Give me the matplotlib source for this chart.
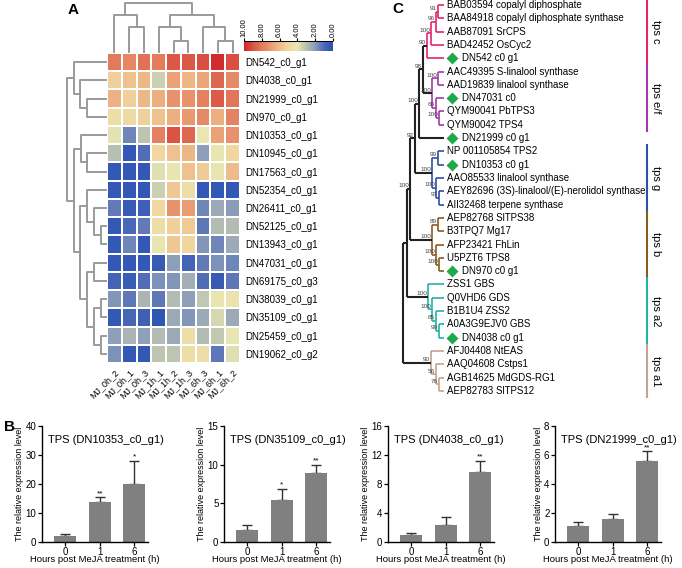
import numpy as np
import matplotlib
matplotlib.use('Agg')
import matplotlib.pyplot as plt
from matplotlib.colors import LinearSegmentedColormap, Normalize
from matplotlib.cm import ScalarMappable

plt.rcParams['font.family'] = ['Liberation Sans', 'DejaVu Sans']

W, H = 682, 568

# ---------------- panel A data ----------------
genes = ['DN542_c0_g1', 'DN4038_c0_g1', 'DN21999_c0_g1', 'DN970_c0_g1', 'DN10353_c0_g1',
         'DN10945_c0_g1', 'DN17563_c0_g1', 'DN52354_c0_g1', 'DN26411_c0_g1', 'DN52125_c0_g1',
         'DN13943_c0_g1', 'DN47031_c0_g1', 'DN69175_c0_g3', 'DN38039_c0_g1', 'DN35109_c0_g1',
         'DN25459_c0_g1', 'DN19062_c0_g2']
samples = ['MJ_0h_2', 'MJ_0h_1', 'MJ_0h_3', 'MJ_1h_1', 'MJ_1h_2', 'MJ_1h_3', 'MJ_6h_3', 'MJ_6h_1', 'MJ_6h_2']
expr = [
    [8.0, 7.6, 8.2, 7.9, 8.9, 8.9, 9.1, 9.8, 9.1],
    [5.3, 5.8, 6.2, 3.4, 6.8, 6.2, 6.7, 8.5, 7.5],
    [6.3, 5.3, 6.1, 6.4, 7.3, 7.3, 7.8, 8.8, 8.1],
    [4.6, 4.8, 5.3, 5.8, 6.4, 7.1, 7.5, 6.4, 7.7],
    [3.9, 1.6, 3.1, 7.8, 9.0, 8.5, 4.0, 6.8, 7.3],
    [3.0, 0.3, 1.1, 5.0, 5.8, 6.2, 2.1, 4.1, 5.0],
    [0.3, 0.3, 0.3, 3.8, 4.1, 5.8, 5.4, 4.1, 6.0],
    [0.3, 0.3, 0.3, 3.4, 5.6, 4.6, 0.3, 0.3, 0.3],
    [1.4, 0.4, 0.6, 5.0, 7.3, 7.0, 1.6, 2.4, 2.0],
    [0.3, 1.0, 1.4, 4.6, 5.3, 5.5, 1.3, 2.9, 2.9],
    [0.3, 1.6, 0.3, 4.1, 5.6, 5.1, 1.9, 1.6, 2.4],
    [0.3, 0.3, 0.3, 0.4, 2.1, 0.8, 1.4, 1.8, 1.6],
    [0.8, 0.5, 1.1, 1.8, 1.9, 2.5, 1.1, 0.4, 1.3],
    [1.9, 1.3, 2.7, 1.3, 2.9, 2.1, 3.2, 4.1, 4.2],
    [0.3, 0.9, 0.7, 0.2, 2.4, 1.9, 2.4, 3.6, 2.4],
    [2.1, 2.7, 2.1, 2.9, 2.4, 4.6, 2.9, 3.2, 4.1],
    [1.8, 0.3, 0.3, 3.1, 3.1, 4.6, 4.6, 1.3, 3.8],
]
# dendrograms: (left, right, height)
row_tree = ((0, (1, (2, 3, 20), 27), 33),
            ((4, (5, 6, 20), 26),
             ((7, (8, (9, 10, 6), 13), 20), ((11, 12, 13), ((13, 14, 6), (15, 16, 6), 13), 20), 27), 33), 40)
col_tree = ((0, (1, 2, 26), 38), ((3, (4, 5, 12), 26), (6, (7, 8, 12), 26), 38), 50)

cmap_vals = [0, 1, 2, 3, 4, 5, 6, 7, 8, 9, 10]
cmap_cols = ['#2a52b4', '#4a68b6', '#8a9cba', '#b8c0b2', '#e8e6b2', '#f0d8a0',
             '#eebc8a', '#e99c72', '#e27a5c', '#da5444', '#cf2228']

# ---------------- panel B data ----------------
bar_titles = ['TPS (DN10353_c0_g1)', 'TPS (DN35109_c0_g1)', 'TPS (DN4038_c0_g1)', 'TPS (DN21999_c0_g1)']
hours = ['0', '1', '6']
bar_means = [[2.0, 13.8, 20.0], [1.6, 5.4, 8.9], [1.0, 2.3, 9.7], [1.1, 1.6, 5.6]]
bar_errs = [[0.9, 1.7, 8.0], [0.6, 1.5, 1.1], [0.2, 1.1, 1.5], [0.25, 0.35, 0.65]]
bar_stars = [['', '**', '*'], ['', '*', '**'], ['', '', '**'], ['', '', '**']]
bar_ymax = [40, 15, 16, 8]
bar_ticks = [[0, 10, 20, 30, 40], [0, 5, 10, 15], [0, 4, 8, 12, 16], [0, 2, 4, 6, 8]]

# ---------------- panel C data ----------------
leaf_names = ['BAB03594 copalyl diphosphate', 'BAA84918 copalyl diphosphate synthase', 'AAB87091 SrCPS',
              'BAD42452 OsCyc2', 'DN542 c0 g1', 'AAC49395 S-linalool synthase', 'AAD19839 linalool synthase',
              'DN47031 c0', 'QYM90041 PbTPS3', 'QYM90042 TPS4', 'DN21999 c0 g1', 'NP 001105854 TPS2',
              'DN10353 c0 g1', 'AAO85533 linalool synthase', 'AEY82696 (3S)-linalool/(E)-nerolidol synthase',
              'AII32468 terpene synthase', 'AEP82768 SlTPS38', 'B3TPQ7 Mg17', 'AFP23421 FhLin', 'U5PZT6 TPS8',
              'DN970 c0 g1', 'ZSS1 GBS', 'Q0VHD6 GDS', 'B1B1U4 ZSS2', 'A0A3G9EJV0 GBS', 'DN4038 c0 g1',
              'AFJ04408 NtEAS', 'AAQ04608 Cstps1', 'AGB14625 MdGDS-RG1', 'AEP82783 SlTPS12']
query_leaves = [4, 7, 10, 12, 20, 25]
clade_names = ['tps c', 'tps e/f', 'tps g', 'tps b', 'tps a2', 'tps a1']
clade_ranges = [(0, 4), (5, 9), (11, 15), (16, 20), (21, 25), (26, 29)]
clade_colors = ['#e2266e', '#a43aa8', '#2f4fa6', '#8a5a22', '#22b2a8', '#c4a48c']
BK = '#222222'
# nodes: (left, right, depth, bootstrap, colour)
c_cl = ((((0, 1, 438, '91', clade_colors[0]), 2, 436, '96', clade_colors[0]), 3, 431, '100', clade_colors[0]),
        4, 427, '90', clade_colors[0])
ef_cl = ((5, 6, 438, '100', clade_colors[1]), (7, (8, 9, 439, '100', clade_colors[1]), 436, '66', clade_colors[1]),
         432, '100', clade_colors[1])
g_cl = ((11, 12, 438, '99', clade_colors[2]), (13, (14, 15, 439, '97', clade_colors[2]), 436, '100', clade_colors[2]),
        432, '100', clade_colors[2])
b_cl = ((16, 17, 438, '89', clade_colors[3]), (18, (19, 20, 439, '100', clade_colors[3]), 436, '100', clade_colors[3]),
        432, '100', clade_colors[3])
a2_cl = (21, (22, (23, (24, 25, 439, '99', clade_colors[4]), 436, '85', clade_colors[4]), 432, '100', clade_colors[4]),
         428, '100', clade_colors[4])
a1_cl = (26, (27, (28, 29, 439, '76', clade_colors[5]), 436, '56', clade_colors[5]), 431, '90', clade_colors[5])
phylo = ((((((c_cl, ef_cl, 423, '98', BK), 10, 419, '100', BK), g_cl, 415, '92', BK), b_cl, 410, '100', BK),
          a2_cl, 407, '', BK), a1_cl, 403, '', BK)
tip_x = 444


def px_axes(fig, x, y, w, h):
    return fig.add_axes([x / W, 1 - (y + h) / H, w / W, h / H])


def dendro(node):
    if isinstance(node, int):
        return node + 0.5, 0, []
    a, b, h = node
    pa, ha, sa = dendro(a)
    pb, hb, sb = dendro(b)
    seg = [(pa, ha), (pa, h), (pb, h), (pb, hb)]
    return (pa + pb) / 2, h, sa + sb + [seg]


def tree_lines(node, ax):
    if isinstance(node, int):
        return node, tip_x
    a, b, x, lab, col = node
    ya, xa = tree_lines(a, ax)
    yb, xb = tree_lines(b, ax)
    lw = 1.5 if col == BK else 1.2
    ax.plot([x, x], [ya, yb], color=col, lw=lw, solid_capstyle='butt')
    ax.plot([x, xa], [ya, ya], color=col, lw=lw, solid_capstyle='butt')
    ax.plot([x, xb], [yb, yb], color=col, lw=lw, solid_capstyle='butt')
    y = (ya + yb) / 2
    if lab:
        ax.text(x - 0.8, y - 0.05, lab, fontsize=4.6, color='#444444', ha='right', va='bottom')
    return y, x


fig = plt.figure(figsize=(W / 100, H / 100), dpi=100)

# ---------- A: heatmap ----------
cmap = LinearSegmentedColormap.from_list('hm', [(v / 10, c) for v, c in zip(cmap_vals, cmap_cols)])
ax_hm = px_axes(fig, 107, 53, 133, 310)
ax_hm.pcolormesh(np.array(expr), cmap=cmap, vmin=0, vmax=10, edgecolors='white', linewidth=1.3)
ax_hm.set_xlim(0, len(samples))
ax_hm.set_ylim(len(genes), 0)
ax_hm.yaxis.tick_right()
ax_hm.set_yticks(np.arange(len(genes)) + 0.5)
ax_hm.set_yticklabels(genes, fontsize=7)
ax_hm.set_xticks(np.arange(len(samples)) + 0.5)
ax_hm.set_xticklabels(samples, fontsize=6.5, rotation=45, ha='right', rotation_mode='anchor')
ax_hm.tick_params(length=0, pad=4)
ax_hm.tick_params(axis='x', pad=3)
for s in ax_hm.spines.values():
    s.set_visible(False)

ax_rd = px_axes(fig, 60, 53, 47, 310)
for seg in dendro(row_tree)[2]:
    ax_rd.plot([p[1] for p in seg], [p[0] for p in seg], color='#9a9a9a', lw=1.4)
ax_rd.set_xlim(47, 0)
ax_rd.set_ylim(len(genes), 0)
ax_rd.axis('off')

ax_cd = px_axes(fig, 107, 0, 133, 53)
for seg in dendro(col_tree)[2]:
    ax_cd.plot([p[0] for p in seg], [p[1] for p in seg], color='#9a9a9a', lw=1.4)
ax_cd.set_xlim(0, len(samples))
ax_cd.set_ylim(0, 53)
ax_cd.axis('off')

cax = px_axes(fig, 244, 41, 89, 10)
cb = fig.colorbar(ScalarMappable(norm=Normalize(0, 10), cmap=cmap), cax=cax, orientation='horizontal')
cb.outline.set_visible(False)
cax.invert_xaxis()
cb.set_ticks([10, 8, 6, 4, 2, 0])
cb.set_ticklabels(['%.2f' % t for t in [10, 8, 6, 4, 2, 0]])
cax.xaxis.set_ticks_position('top')
cax.tick_params(labelsize=5.5, length=2, width=0.8, pad=1, labelrotation=90)
cax.axhline(1, color='black', lw=1.4)

fig.text(68 / W, 1 - 10 / H, 'A', fontsize=11, fontweight='bold', va='center')

# ---------- C: tree ----------
ax_c = px_axes(fig, 390, 0, 292, 400)
ax_c.set_xlim(390, 682)
ax_c.set_ylim(29.68, -0.376)
ax_c.axis('off')
tree_lines(phylo, ax_c)
for i, name in enumerate(leaf_names):
    if i in query_leaves:
        ax_c.plot(452, i, marker='D', ms=6, color='#1faa4a', mec='none')
        ax_c.text(462, i, name, fontsize=7, va='center', ha='left')
    else:
        ax_c.text(447, i, name, fontsize=7, va='center', ha='left')
for name, (i0, i1), col in zip(clade_names, clade_ranges, clade_colors):
    ax_c.plot([647, 647], [i0 - 0.45, i1 + 0.45], color=col, lw=1.5)
    ax_c.text(656, (i0 + i1) / 2, name, rotation=-90, fontsize=8, ha='center', va='center')
fig.text(392 / W, 1 - 9 / H, 'C', fontsize=11, fontweight='bold', va='center')

# ---------- B: bar charts ----------
fig.text(4 / W, 1 - 427 / H, 'B', fontsize=11, fontweight='bold', va='center')
x0s = [42, 224, 388, 555]
for k in range(4):
    ax = px_axes(fig, x0s[k], 426, 106, 116)
    xs = np.arange(len(hours))
    ax.bar(xs, bar_means[k], width=0.64, color='#808080', zorder=2)
    ax.errorbar(xs, bar_means[k], yerr=[[0] * 3, bar_errs[k]], fmt='none', ecolor='#333333',
                elinewidth=1.0, capsize=3.5, capthick=1.0, zorder=1)
    for xi, m, e, s in zip(xs, bar_means[k], bar_errs[k], bar_stars[k]):
        if s:
            ax.text(xi, m + e, s, ha='center', va='bottom', fontsize=6)
    ax.set_xlim(-0.67, 2.4)
    ax.set_ylim(0, bar_ymax[k])
    ax.set_yticks(bar_ticks[k])
    ax.set_xticks(xs)
    ax.set_xticklabels(hours)
    for s in ['top', 'right']:
        ax.spines[s].set_visible(False)
    for s in ['left', 'bottom']:
        ax.spines[s].set_linewidth(1.0)
    ax.tick_params(labelsize=7, length=3, width=0.9, pad=1)
    ax.tick_params(axis='x', pad=0.5)
    ax.set_ylabel('The relative expression level', fontsize=6.5, labelpad=1)
    ax.set_xlabel('Hours post MeJA treatment (h)', fontsize=6.8, labelpad=-1)
    ax.text(0.06, 0.88, bar_titles[k], transform=ax.transAxes, fontsize=8, va='center', ha='left')

fig.savefig('out.png', dpi=100)
